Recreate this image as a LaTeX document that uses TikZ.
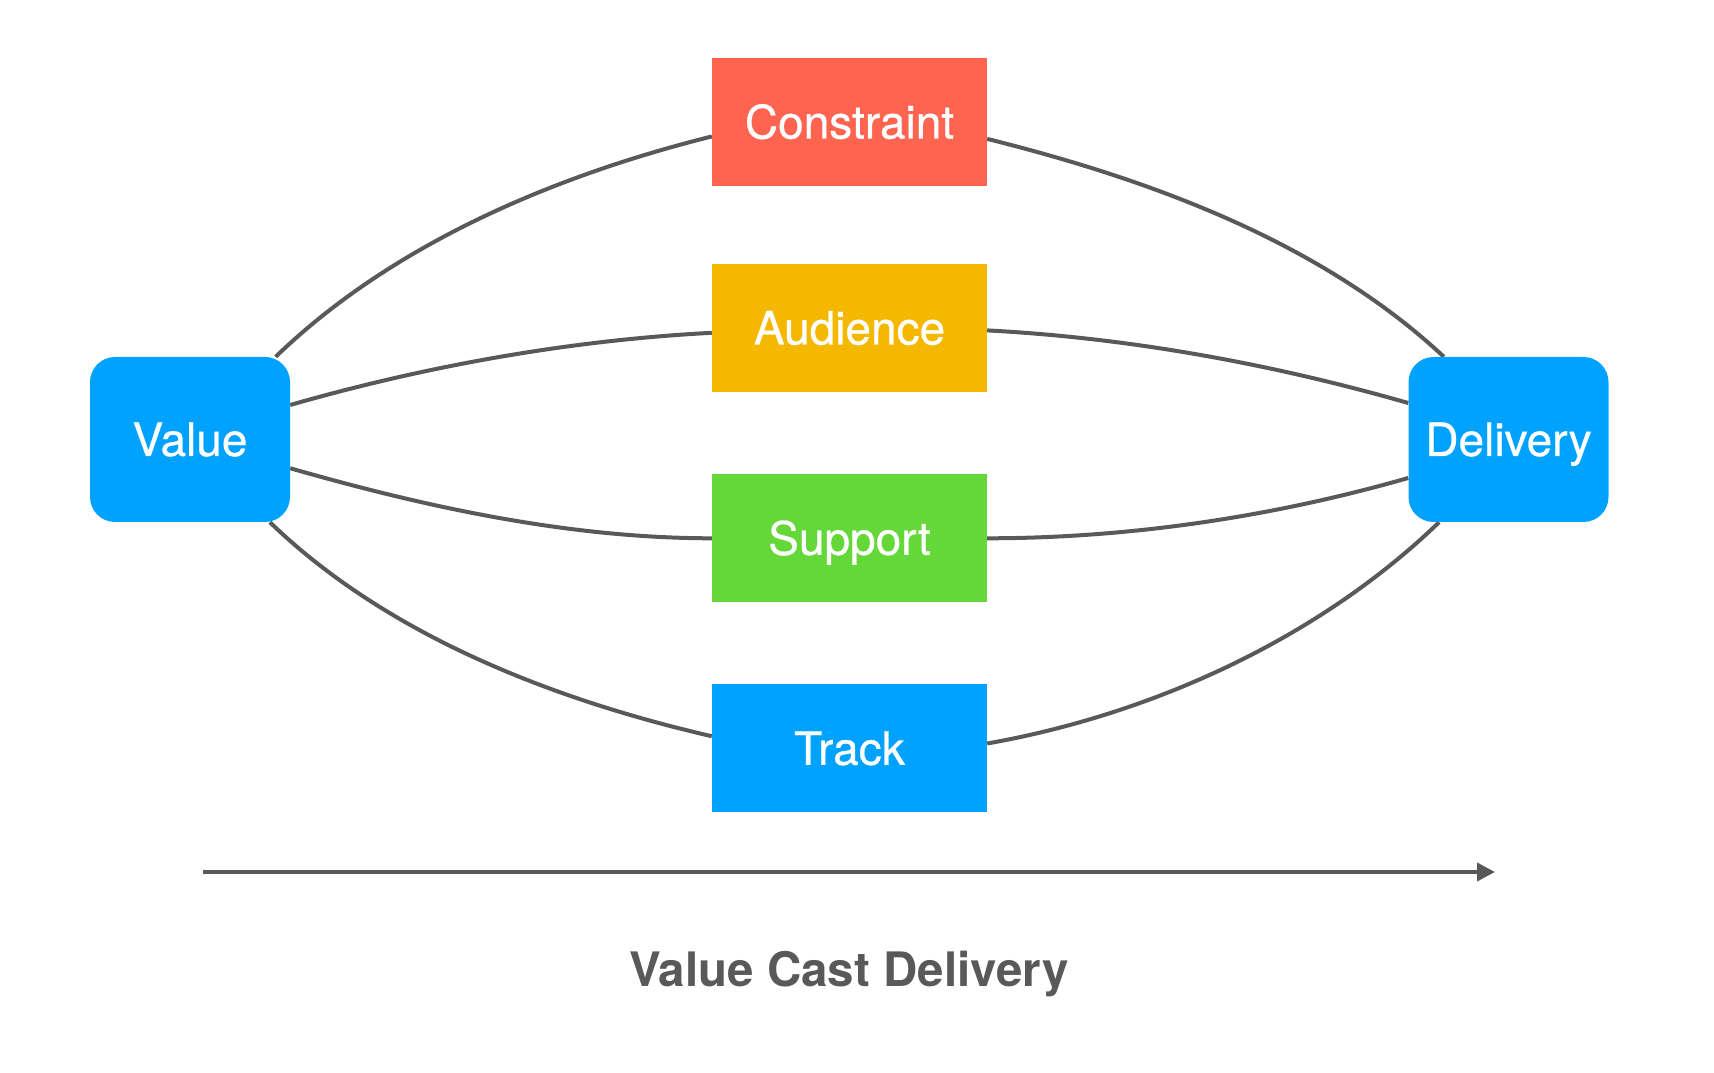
\documentclass[tikz,border=0pt]{standalone}
\usepackage{fontspec}
\setmainfont{TeX Gyre Heros}
\newfontfamily\castfont[FakeBold=0.6]{TeX Gyre Heros}
\usetikzlibrary{arrows.meta, backgrounds}
\definecolor{castred}{HTML}{FF6450}
\definecolor{castyellow}{HTML}{F5B800}
\definecolor{castgreen}{HTML}{63D838}
\definecolor{castblue}{HTML}{00A2FF}
\definecolor{castgray}{HTML}{595959}
\tikzstyle{block} = [rectangle, minimum width=275pt, minimum height=128pt, inner sep=0pt, text height=33pt, text depth=0pt, text=white, font=\castfont\fontsize{46}{55}\selectfont]
\tikzstyle{endpoint} = [block, rounded corners=25pt, minimum width=200pt, minimum height=165pt, fill=castblue]
\tikzstyle{link} = [line width=4pt, draw=castgray, looseness=0.85]
\tikzstyle{arrow} = [line width=4pt, draw=castgray, -{Triangle[length=18pt,width=18pt]}]

\begin{document}
\begin{tikzpicture}[x=1pt, y=1pt]
  \useasboundingbox (0,0) rectangle (1714,1072);
  \node (value) [endpoint] at (190,632.5) {Value};
  \node (delivery) [endpoint] at (1508.5,632.5) {Delivery};
  \node (constraint) [block, fill=castred] at (849.5,950) {Constraint};
  \node (audience) [block, fill=castyellow] at (849.5,744) {Audience};
  \node (support) [block, fill=castgreen] at (849.5,533.7) {Support};
  \node (track) [block, fill=castblue] at (849.5,323.7) {Track};
  \coordinate (from) at (203,200);
  \coordinate (to) at (1495,200);
  \node (title) [anchor=base, text=castgray, font=\fontsize{47.5}{57}\selectfont\bfseries] at (849,86) {Value Cast Delivery};
  \begin{scope}[on background layer]
    \draw [link] (value.44.5) to[out=44, in=194] (constraint.186.5);
    \draw [link] (value.19) to[out=16, in=183] (audience.182);
    \draw [link] (value.-16) to[out=-16, in=180] (support.180);
    \draw [link] (value.-46.6) to[out=-44, in=167] (track.175.2);
    \draw [link] (constraint.353.6) to[out=-14, in=137] (delivery.128);
    \draw [link] (audience.359) to[out=-3, in=164] (delivery.160.4);
    \draw [link] (support.0) to[out=0, in=196] (delivery.201.2);
    \draw [link] (track.2.1) to[out=10, in=224] (delivery.230.6);
  \end{scope}
  \draw [arrow] (from) -- (to);
\end{tikzpicture}
\end{document}
